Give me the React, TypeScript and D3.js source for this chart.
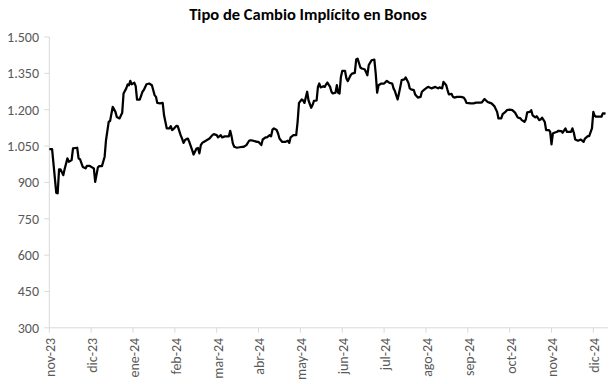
import React from "react";
import * as d3 from "d3";

const TITLE = "Tipo de Cambio Implícito en Bonos";

const monthLabels = [
  "nov-23", "dic-23", "ene-24", "feb-24", "mar-24", "abr-24", "may-24",
  "jun-24", "jul-24", "ago-24", "sep-24", "oct-24", "nov-24", "dic-24",
];

const yTicks = [300, 450, 600, 750, 900, 1050, 1200, 1350, 1500];

const dates = [
  "2023-11-01","2023-11-03","2023-11-06","2023-11-07","2023-11-08","2023-11-09","2023-11-11","2023-11-12","2023-11-14","2023-11-15",
  "2023-11-17","2023-11-18","2023-11-21","2023-11-22","2023-11-23","2023-11-25","2023-11-27","2023-11-28","2023-11-30",
  "2023-12-03","2023-12-04","2023-12-06","2023-12-07","2023-12-09","2023-12-11","2023-12-12","2023-12-14","2023-12-15","2023-12-17",
  "2023-12-19","2023-12-20","2023-12-22","2023-12-24","2023-12-25","2023-12-27","2023-12-28","2023-12-29","2023-12-30","2023-12-31",
  "2024-01-02","2024-01-03","2024-01-04","2024-01-06","2024-01-08","2024-01-09","2024-01-11","2024-01-13","2024-01-15","2024-01-17",
  "2024-01-18","2024-01-19","2024-01-21","2024-01-23","2024-01-24","2024-01-26","2024-01-28","2024-01-29","2024-01-30","2024-01-31",
  "2024-02-02","2024-02-03","2024-02-05","2024-02-06","2024-02-07","2024-02-08","2024-02-09","2024-02-10","2024-02-11","2024-02-13",
  "2024-02-14","2024-02-16","2024-02-17","2024-02-18","2024-02-19","2024-02-20","2024-02-21","2024-02-23","2024-02-25","2024-02-27",
  "2024-02-28","2024-03-01","2024-03-02","2024-03-04","2024-03-05","2024-03-07","2024-03-10","2024-03-11","2024-03-12","2024-03-13",
  "2024-03-14","2024-03-16","2024-03-18","2024-03-20","2024-03-21","2024-03-23","2024-03-25","2024-03-26","2024-03-28","2024-03-31",
  "2024-04-01","2024-04-03","2024-04-04","2024-04-06","2024-04-07","2024-04-09","2024-04-10","2024-04-11","2024-04-12","2024-04-14",
  "2024-04-15","2024-04-16","2024-04-18","2024-04-20","2024-04-22","2024-04-23","2024-04-24","2024-04-26","2024-04-28","2024-04-29",
  "2024-04-30","2024-05-02","2024-05-03","2024-05-04","2024-05-06","2024-05-07","2024-05-09","2024-05-10","2024-05-11","2024-05-13",
  "2024-05-14","2024-05-15","2024-05-16","2024-05-18","2024-05-19","2024-05-20","2024-05-21","2024-05-23","2024-05-24","2024-05-25",
  "2024-05-27","2024-05-28","2024-05-29","2024-05-30","2024-05-31","2024-06-01","2024-06-03","2024-06-04","2024-06-05","2024-06-07",
  "2024-06-08","2024-06-10","2024-06-11","2024-06-12","2024-06-14","2024-06-15","2024-06-17","2024-06-18","2024-06-19","2024-06-20",
  "2024-06-22","2024-06-24","2024-06-25","2024-06-26","2024-06-27","2024-06-29","2024-07-01","2024-07-03","2024-07-05","2024-07-07",
  "2024-07-08","2024-07-09","2024-07-11","2024-07-12","2024-07-14","2024-07-16","2024-07-17","2024-07-19","2024-07-20","2024-07-21",
  "2024-07-23","2024-07-24","2024-07-26","2024-07-28","2024-07-29","2024-07-31","2024-08-02","2024-08-03","2024-08-05","2024-08-07",
  "2024-08-08","2024-08-10","2024-08-11","2024-08-13","2024-08-14","2024-08-16","2024-08-17","2024-08-18","2024-08-20","2024-08-21",
  "2024-08-22","2024-08-24","2024-08-27","2024-08-29","2024-08-30","2024-08-31","2024-09-03","2024-09-05","2024-09-07","2024-09-10",
  "2024-09-11","2024-09-13","2024-09-15","2024-09-16","2024-09-18","2024-09-20","2024-09-22","2024-09-23","2024-09-25","2024-09-26",
  "2024-09-28","2024-09-29","2024-10-01","2024-10-03","2024-10-05","2024-10-07","2024-10-09","2024-10-10","2024-10-12","2024-10-13",
  "2024-10-14","2024-10-16","2024-10-17","2024-10-18","2024-10-20","2024-10-21","2024-10-23","2024-10-24","2024-10-25","2024-10-27",
  "2024-10-28","2024-10-30","2024-10-31","2024-11-01","2024-11-02","2024-11-03","2024-11-05","2024-11-06","2024-11-08","2024-11-09",
  "2024-11-11","2024-11-12","2024-11-13","2024-11-15","2024-11-16","2024-11-17","2024-11-18","2024-11-20","2024-11-22","2024-11-23",
  "2024-11-24","2024-11-25","2024-11-27","2024-11-28","2024-11-30","2024-12-01","2024-12-02","2024-12-03","2024-12-05","2024-12-07",
  "2024-12-08","2024-12-09","2024-12-10",
];

const values = [
  1037,1037,857,855,954,954,930,955,999,985,
  992,1040,1043,999,996,964,958,968,968,
  958,902,962,967,967,1006,1074,1150,1153,1212,
  1191,1170,1164,1187,1267,1288,1304,1301,1319,1305,
  1311,1297,1242,1242,1274,1281,1305,1308,1301,1260,
  1253,1228,1226,1228,1177,1123,1123,1132,1116,1120,
  1133,1132,1095,1081,1063,1074,1079,1081,1067,1033,
  1015,1040,1042,1020,1054,1063,1067,1074,1081,1095,
  1099,1095,1086,1095,1086,1090,1090,1113,1090,1060,
  1047,1043,1045,1047,1047,1054,1072,1074,1072,1067,
  1067,1054,1077,1086,1086,1095,1090,1118,1123,1116,
  1102,1081,1067,1067,1072,1063,1086,1095,1095,1150,
  1228,1242,1238,1228,1274,1239,1208,1219,1236,1238,
  1294,1308,1292,1297,1294,1304,1312,1294,1274,1267,
  1270,1301,1270,1267,1335,1360,1360,1329,1318,1342,
  1349,1352,1407,1411,1374,1370,1367,1356,1342,1384,
  1404,1407,1349,1270,1301,1308,1308,1319,1311,1308,
  1288,1277,1242,1267,1322,1325,1333,1311,1288,1284,
  1281,1263,1250,1253,1274,1284,1292,1294,1288,1292,
  1294,1288,1292,1288,1315,1301,1281,1263,1265,1253,
  1250,1253,1253,1250,1242,1228,1226,1226,1229,1229,
  1230,1244,1233,1230,1226,1215,1191,1164,1164,1182,
  1191,1198,1200,1198,1188,1168,1164,1157,1150,1160,
  1189,1191,1198,1177,1168,1173,1157,1160,1167,1150,
  1116,1116,1109,1057,1102,1105,1109,1113,1112,1105,
  1123,1109,1109,1109,1123,1105,1077,1072,1077,1072,
  1067,1081,1091,1091,1123,1191,1175,1171,1171,1171,
  1185,1185,1183,
];

const W = 609;
const H = 384;
const startMonth = new Date(2023, 10, 1);
const parse = d3.timeParse("%Y-%m-%d");

// fractional month index (Excel-like equal month spacing)
function monthPos(d: Date): number {
  const m0 = d3.timeMonth.floor(d);
  const m1 = d3.timeMonth.offset(m0, 1);
  const idx = d3.timeMonth.count(startMonth, m0);
  const days = d3.timeDay.count(m0, m1);
  return idx + (d.getDate() - 1) / days;
}

const fmtLocale = d3.formatLocale({ decimal: ",", thousands: ".", grouping: [3], currency: ["$", ""] });
const fmt = fmtLocale.format(",d");

export default function App() {
  const x = d3.scaleLinear().domain([0, 13]).range([49.3, 593.35]);
  const y = d3.scaleLinear().domain([300, 1500]).range([327.8, 37]);
  const plotRight = 608;

  const pts = dates.map((s, i) => ({ t: monthPos(parse(s) as Date), v: values[i] }));
  const line = d3
    .line<{ t: number; v: number }>()
    .x((d) => x(d.t))
    .y((d) => y(d.v))
    .curve(d3.curveLinear);

  const font = "Calibri, Carlito, Lato, 'Open Sans', sans-serif";
  const grey = "#595959";

  return (
    <svg width={W} height={H} style={{ position: "absolute", left: 0, top: 0, background: "#fff" }}>
      <rect width={W} height={H} fill="#fff" />
      <text x={308} y={20} textAnchor="middle" fontFamily={font} fontWeight="bold" fontSize={16.5} fill="#000">
        {TITLE}
      </text>
      {/* y axis */}
      <line x1={x(0)} x2={x(0)} y1={y(1500)} y2={y(300)} stroke="#d9d9d9" strokeWidth={1} />
      {yTicks.map((t) => (
        <g key={t}>
          <line x1={x(0) - 5} x2={x(0)} y1={y(t)} y2={y(t)} stroke="#d9d9d9" strokeWidth={1} />
          <text x={39} y={y(t)} dy="0.35em" textAnchor="end" fontFamily={font} fontSize={14} fill={grey}>
            {fmt(t)}
          </text>
        </g>
      ))}
      {/* x axis */}
      <line x1={x(0)} x2={plotRight} y1={y(300)} y2={y(300)} stroke="#d9d9d9" strokeWidth={1} />
      {monthLabels.map((lab, i) => (
        <g key={lab}>
          <line x1={x(i)} x2={x(i)} y1={y(300)} y2={y(300) + 5} stroke="#d9d9d9" strokeWidth={1} />
          <text
            transform={`translate(${x(i) + 1},${y(300) + 10}) rotate(-90)`}
            textAnchor="end"
            dy="0.35em"
            fontFamily={font}
            fontSize={14}
            fill={grey}
          >
            {lab}
          </text>
        </g>
      ))}
      <path d={line(pts) || ""} fill="none" stroke="#000" strokeWidth={2.25} strokeLinejoin="round" />
    </svg>
  );
}
